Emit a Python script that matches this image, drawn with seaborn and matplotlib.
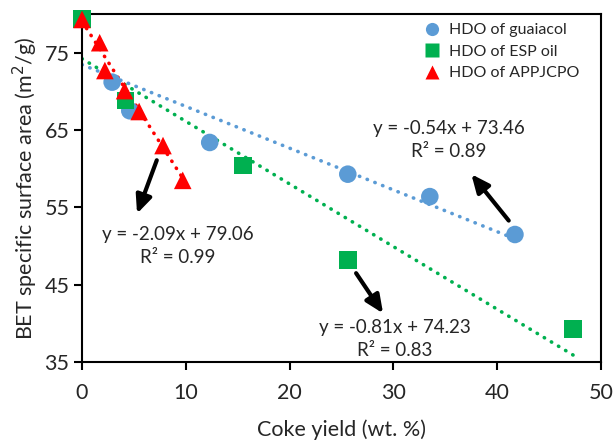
import numpy as np
import pandas as pd
import matplotlib
matplotlib.use("Agg")
import matplotlib.pyplot as plt
import seaborn as sns

# --- Datos ---
guaiacol_x = [2.9, 4.6, 12.3, 25.6, 33.5, 41.7]
guaiacol_y = [71.2, 67.5, 63.4, 59.3, 56.4, 51.5]

esp_x = [0.0, 4.2, 15.5, 25.6, 47.3]
esp_y = [79.4, 68.8, 60.4, 48.2, 39.3]

appj_x = [0.0, 1.7, 2.2, 4.1, 5.5, 7.8, 9.7]
appj_y = [79.3, 76.3, 72.7, 70.1, 67.4, 63.0, 58.5]

series = ["HDO of guaiacol", "HDO of ESP oil", "HDO of APPJCPO"]
slopes = [-0.54, -0.81, -2.09]
intercepts = [73.46, 74.23, 79.06]
r2 = [0.89, 0.83, 0.99]
fit_end = [41.8, 47.3, 9.7]

colors = ["#5B9BD5", "#00B050", "#FF0000"]
markers = ["o", "s", "^"]

df = pd.concat([
    pd.DataFrame({"x": guaiacol_x, "y": guaiacol_y, "serie": series[0]}),
    pd.DataFrame({"x": esp_x, "y": esp_y, "serie": series[1]}),
    pd.DataFrame({"x": appj_x, "y": appj_y, "serie": series[2]}),
])

sns.set_theme(style="white")
plt.rcParams['font.family'] = ['Lato', 'DejaVu Sans']

fig = plt.figure(figsize=(6.14, 4.4), dpi=100)
ax = fig.add_axes([0.1336, 0.177, 0.979 - 0.1336, 0.968 - 0.177])

# lineas de tendencia
for s, m, b, xe, c in zip(series, slopes, intercepts, fit_end, colors):
    xs = np.linspace(0, xe, 50)
    ax.plot(xs, m * xs + b, linestyle=(0, (0.1, 2.2)), dash_capstyle='round',
            color=c, lw=2.6, zorder=1)

sns.scatterplot(data=df, x="x", y="y", hue="serie", style="serie",
                palette=dict(zip(series, colors)),
                markers=dict(zip(series, markers)),
                s=160, edgecolor="none", ax=ax, zorder=3, clip_on=False)

ax.set_xlim(0, 50)
ax.set_ylim(35, 80)
ax.set_xticks(range(0, 51, 10))
ax.set_yticks([35, 45, 55, 65, 75])
ax.tick_params(axis='both', labelsize=15.5, direction='out', length=6, width=1.5,
               bottom=True, left=True, color='black', pad=3)
ax.tick_params(axis='x', pad=9)
for sp in ax.spines.values():
    sp.set_color('black')
    sp.set_linewidth(1.5)

ax.set_xlabel("Coke yield (wt. %)", fontsize=15.5, labelpad=12)
ax.set_ylabel("BET specific surface area (m$^2$/g)", fontsize=15.5, labelpad=3)

leg = ax.legend(loc='upper right', bbox_to_anchor=(0.985, 1.015), frameon=False,
                fontsize=11.5, handletextpad=0.05, labelspacing=0.45,
                markerscale=0.75)

# ecuaciones y flechas
txt_kw = dict(fontsize=13.5, ha='center', va='center', linespacing=1.45)
ax.text(35.3, 63.7, f"y = {slopes[0]}x + {intercepts[0]}\nR² = {r2[0]}", **txt_kw)
ax.text(9.25, 50.0, f"y = {slopes[2]}x + {intercepts[2]}\nR² = {r2[2]}", **txt_kw)
ax.text(30.15, 38.0, f"y = {slopes[1]}x + {intercepts[1]}\nR² = {r2[1]}", **txt_kw)

arrow_kw = dict(arrowstyle='-|>,head_length=0.9,head_width=0.4', color='black',
                lw=3, shrinkA=0, shrinkB=0)
ax.annotate("", xy=(37.5, 59.3), xytext=(41.1, 53.3), arrowprops=arrow_kw)
ax.annotate("", xy=(5.3, 54.2), xytext=(7.2, 61.1), arrowprops=arrow_kw)
ax.annotate("", xy=(29.0, 41.3), xytext=(26.4, 46.5), arrowprops=arrow_kw)

fig.savefig("out.png", dpi=100)
